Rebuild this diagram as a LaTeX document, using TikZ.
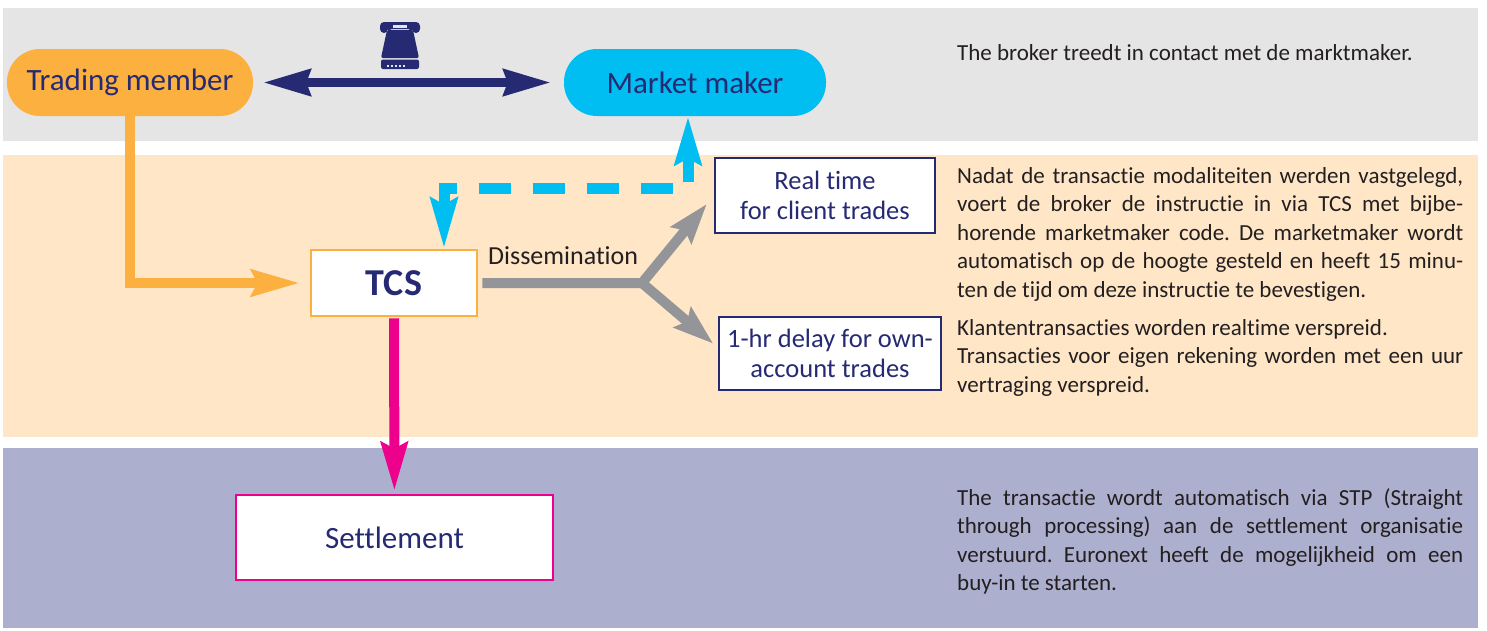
\documentclass[tikz,border=0pt]{standalone}
\usepackage{fontspec}
\setmainfont{Carlito}[Ligatures=NoCommon]
\usepackage{tikz}
\usetikzlibrary{arrows.meta}
\definecolor{bandgray}{HTML}{E5E5E5}
\definecolor{bandpeach}{HTML}{FEE6C7}
\definecolor{bandlilac}{HTML}{ADAFCE}
\definecolor{tmorange}{HTML}{FBB040}
\definecolor{mmcyan}{HTML}{00BDF2}
\definecolor{navy}{HTML}{262A73}
\definecolor{flowgray}{HTML}{939598}
\definecolor{setpink}{HTML}{EC008C}
\definecolor{bodyink}{HTML}{231F20}
\tolerance=9999
\hbadness=10000
\hyphenpenalty=10000
\frenchspacing

\begin{document}
\begin{tikzpicture}[x=1pt,y=-1pt]
\tikzset{pill/.style = {shape=rectangle,rounded corners=33pt,minimum height=67pt,inner sep=0pt,text=navy,font=\fontsize{31}{37}\selectfont}}
\tikzset{box/.style = {shape=rectangle,fill=white,line width=2.5pt,inner sep=0pt,align=center}}
\tikzset{infobox/.style = {box,draw=navy,text=navy,font=\fontsize{26.5}{30}\selectfont}}
\tikzset{note/.style = {anchor=north west,inner sep=0pt,text width=506pt,align=justify,text=bodyink,font=\fontsize{23}{28.5}\selectfont}}
\tikzset{edge/.style = {line width=10pt,-{Stealth[length=48pt,width=26pt,inset=6pt]}}}
\tikzset{grayedge/.style = {line width=10pt,draw=flowgray,-{Stealth[length=40pt,width=26pt,inset=6pt]}}}
\tikzset{dashedge/.style = {line width=11pt,draw=mmcyan,dash pattern=on 32pt off 22pt,{Stealth[length=50pt,width=26pt,inset=6pt]}-{Stealth[length=48pt,width=26pt,inset=6pt]}}}
\useasboundingbox (0,0) rectangle (1487,630);

% bands
\fill[bandgray] (3,8) rectangle (1478,141);
\fill[bandpeach] (3,155) rectangle (1478,437);
\fill[bandlilac] (3,448) rectangle (1478,628);

% phone
\fill[navy,rounded corners=4pt] (380,33) -- (380,22) -- (420,22) -- (420,33) -- (412,33) -- (412,29) -- (388,29) -- (388,33) -- cycle;
\fill[bandgray] (393,24.5) rectangle (407,27.5);
\fill[navy,rounded corners=2pt] (387,30) -- (413,30) -- (419,58) -- (381,58) -- cycle;
\fill[navy,rounded corners=2pt] (381,59.5) rectangle (419,69);
\foreach \i in {0,...,4}
  \fill[bandgray] (386.5+4*\i,64.5) rectangle (388.5+4*\i,66.5);

% vertices
\node[pill,fill=tmorange,minimum width=246pt] (tm) at (130,82.5) {Trading member};
\node[pill,fill=mmcyan,minimum width=262pt] (mm) at (695,82.5) {Market maker};
\node[box,draw=tmorange,text=navy,minimum width=166pt,minimum height=66pt,font=\fontsize{38}{40}\selectfont\bfseries] (tcs) at (394,283) {TCS};
\node[infobox,minimum width=220pt,minimum height=75pt] (rt) at (825,195.5) {Real time\\for client trades};
\node[infobox,minimum width=222pt,minimum height=73pt] (dl) at (830,353.5) {1-hr delay for own-\\account trades};
\node[box,draw=setpink,text=navy,minimum width=317pt,minimum height=85pt,font=\fontsize{31}{37}\selectfont] (settle) at (394.5,537.5) {Settlement};
\node[anchor=west,inner sep=0pt,text=bodyink,font=\fontsize{26}{30}\selectfont] (diss) at (488,256) {Dissemination};
\coordinate (split) at (642,283);

% notes
\node[anchor=west,inner sep=0pt,text=bodyink,font=\fontsize{23}{28.5}\selectfont] (n1) at (957,53) {The broker treedt in contact met de marktmaker.};
\node[note] (n2) at (957,167) {Nadat de transactie modaliteiten werden vastgelegd,\linebreak voert de broker de instructie in via TCS met bijbe-\linebreak horende marketmaker code. De marketmaker wordt\linebreak automatisch op de hoogte gesteld en heeft 15 minu-\linebreak ten de tijd om deze instructie te bevestigen.};
\node[note] (n3) at (957,319) {Klantentransacties worden realtime verspreid.\newline Transacties voor eigen rekening worden met een uur\linebreak vertraging verspreid.};
\node[note] (n4) at (957,488) {The transactie wordt automatisch via STP (Straight\linebreak through processing) aan de settlement organisatie\linebreak verstuurd. Euronext heeft de mogelijkheid om een\linebreak buy-in te starten.};

% edges
\draw[line width=9pt,navy,{Stealth[length=47pt,width=26pt,inset=4pt]}-{Stealth[length=47pt,width=26pt,inset=4pt]},shorten <=10pt,shorten >=13pt] (tm) -- (mm);
\draw[edge,tmorange,shorten >=10pt] (tm.south) |- (tcs.west);
\draw[edge,setpink,shorten <=1pt,shorten >=3pt] (tcs) -- (settle);
\draw[dashedge] ([xshift=50pt]tcs.north) -- ++(0,-60) -| ([xshift=-7pt]mm.south);
\draw[grayedge,shorten <=4pt,shorten >=11pt] (tcs.east) -- (split) -- (rt.west);
\draw[grayedge,shorten >=6pt] (split) -- ([yshift=6pt]dl.west);

\end{tikzpicture}
\end{document}
